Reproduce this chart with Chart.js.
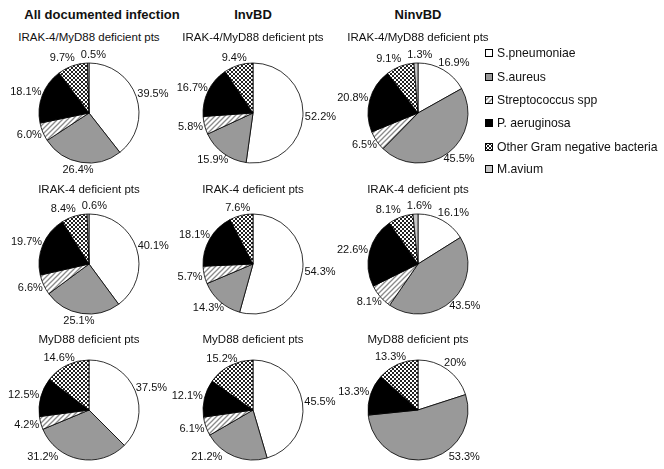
<!DOCTYPE html>
<html>
<head>
<meta charset="utf-8">
<script src="https://cdn.jsdelivr.net/npm/chart.js@4.4.0/dist/chart.umd.min.js"></script>
<style>
    body { margin: 0; background: #fff; font-family: Arial, "Liberation Sans", sans-serif; color: #111; }
    #wrap { position: relative; width: 664px; height: 469px; overflow: hidden; }
    .head { position: absolute; font-weight: bold; font-size: 13px; transform: translate(-50%, -50%); white-space: nowrap; }
    .sub { position: absolute; font-size: 11.5px; transform: translate(-50%, -50%); white-space: nowrap; }
    canvas.pie { position: absolute; }
    .leg { position: absolute; left: 485px; font-size: 12.2px; white-space: nowrap; transform: translateY(-50%); display: flex; align-items: center; }
    .leg canvas { margin-right: 4px; }
</style>
</head>
<body>
<div id="wrap"></div>
<script>
    const categories = ['S.pneumoniae', 'S.aureus', 'Streptococcus spp', 'P. aeruginosa', 'Other Gram negative bacteria', 'M.avium'];
    const groups = ['All documented infection', 'InvBD', 'NinvBD'];
    const patients = ['IRAK-4/MyD88 deficient pts', 'IRAK-4 deficient pts', 'MyD88 deficient pts'];

    // percentages, clockwise from 12 o'clock, in category order
    const allIrakMyd = ['39.5', '26.4', '6.0', '18.1', '9.7', '0.5'];
    const invIrakMyd = ['52.2', '15.9', '5.8', '16.7', '9.4', '0'];
    const ninvIrakMyd = ['16.9', '45.5', '6.5', '20.8', '9.1', '1.3'];
    const allIrak = ['40.1', '25.1', '6.6', '19.7', '8.4', '0.6'];
    const invIrak = ['54.3', '14.3', '5.7', '18.1', '7.6', '0'];
    const ninvIrak = ['16.1', '43.5', '8.1', '22.6', '8.1', '1.6'];
    const allMyd = ['37.5', '31.2', '4.2', '12.5', '14.6', '0'];
    const invMyd = ['45.5', '21.2', '6.1', '12.1', '15.2', '0'];
    const ninvMyd = ['20', '53.3', '0', '13.3', '13.3', '0'];

    const table = [
        [allIrakMyd, invIrakMyd, ninvIrakMyd],
        [allIrak, invIrak, ninvIrak],
        [allMyd, invMyd, ninvMyd]
    ];

    const colX = [89, 253, 418];
    const rowY = [113, 264, 410];
    const subY = [37, 189, 339];
    const FONT = 'Arial, "Liberation Sans", sans-serif';

    function makePattern(draw, size) {
        const c = document.createElement('canvas');
        c.width = size; c.height = size;
        const g = c.getContext('2d');
        g.fillStyle = '#fff';
        g.fillRect(0, 0, size, size);
        draw(g);
        return c;
    }

    const hatchTile = makePattern(g => {
        g.strokeStyle = '#8a8a8a';
        g.lineWidth = 1.3;
        g.beginPath();
        g.moveTo(0, 5); g.lineTo(5, 0);
        g.moveTo(-1, 1); g.lineTo(1, -1);
        g.moveTo(4, 6); g.lineTo(6, 4);
        g.stroke();
    }, 5);

    const checkTile = makePattern(g => {
        g.fillStyle = '#222';
        g.fillRect(0, 0, 2, 2);
        g.fillRect(2, 2, 2, 2);
    }, 4);

    const wrap = document.getElementById('wrap');
    const pctx = document.createElement('canvas').getContext('2d');
    const colors = [
        '#ffffff',
        '#999999',
        pctx.createPattern(hatchTile, 'repeat'),
        '#000000',
        pctx.createPattern(checkTile, 'repeat'),
        '#c8c8c8'
    ];

    // excel-like "outside end" labels, kept inside the plot area at the bottom
    const outsideLabels = {
        id: 'outsideLabels',
        afterDatasetsDraw(chart, args, opts) {
            const ctx = chart.ctx;
            const meta = chart.getDatasetMeta(0);
            const raw = chart.data.datasets[0].data;
            const maxY = opts.maxY || chart.height;
            const hh = 6, gap = 6;
            ctx.save();
            ctx.font = '11px ' + FONT;
            ctx.fillStyle = '#111';
            ctx.textAlign = 'center';
            ctx.textBaseline = 'middle';
            const labels = [];
            meta.data.forEach((arc, i) => {
                if (+raw[i] === 0) return;
                const p = arc.getProps(['x', 'y', 'startAngle', 'endAngle', 'outerRadius'], true);
                const mid = (p.startAngle + p.endAngle) / 2;
                const dx = Math.cos(mid), dy = Math.sin(mid);
                const text = raw[i] + '%';
                const hw = ctx.measureText(text).width / 2;
                const r = p.outerRadius + 2;
                let tx = p.x + dx * (r + hw);
                let ty = p.y + dy * (r + hh);
                if (ty > maxY) {
                    ty = maxY;
                    const top = ty - p.y - hh + 1;
                    const half = top < r ? Math.sqrt(r * r - top * top) : 0;
                    tx = p.x + Math.sign(dx) * (half + hw);
                }
                labels.push({text, x: tx, y: ty, hw});
            });
            // push overlapping labels apart sideways
            for (let k = 0; k < 5; k++) {
                for (let i = 0; i < labels.length; i++) {
                    for (let j = i + 1; j < labels.length; j++) {
                        const a = labels[i], b = labels[j];
                        if (Math.abs(a.y - b.y) >= 2 * hh) continue;
                        const need = a.hw + b.hw + gap - Math.abs(a.x - b.x);
                        if (need <= 0) continue;
                        const s = a.x < b.x ? -1 : 1;
                        a.x += s * need / 2;
                        b.x -= s * need / 2;
                    }
                }
            }
            labels.forEach(l => ctx.fillText(l.text, l.x, l.y));
            ctx.restore();
        }
    };

    groups.forEach((g, c) => {
        const h = document.createElement('div');
        h.className = 'head';
        h.textContent = g;
        h.style.left = (c === 0 ? 102 : colX[c]) + 'px';
        h.style.top = '14px';
        wrap.appendChild(h);
    });

    table.forEach((row, r) => {
        row.forEach((values, c) => {
            const s = document.createElement('div');
            s.className = 'sub';
            s.textContent = patients[r];
            s.style.left = colX[c] + 'px';
            s.style.top = subY[r] + 'px';
            wrap.appendChild(s);

            const top = rowY[r] - 80;
            const cv = document.createElement('canvas');
            cv.className = 'pie';
            cv.width = 200; cv.height = 160;
            cv.style.left = (colX[c] - 100) + 'px';
            cv.style.top = top + 'px';
            wrap.appendChild(cv);

            new Chart(cv.getContext('2d'), {
                type: 'pie',
                data: {
                    labels: categories,
                    datasets: [{
                        data: values,
                        backgroundColor: colors,
                        borderColor: '#000',
                        borderWidth: 0.8
                    }]
                },
                options: {
                    responsive: false,
                    animation: false,
                    radius: 50,
                    events: [],
                    plugins: {
                        legend: { display: false },
                        tooltip: { enabled: false },
                        outsideLabels: { maxY: 457 - top }
                    }
                },
                plugins: [outsideLabels]
            });
        });
    });

    const legY = [53, 77, 100, 123, 147, 169];
    categories.forEach((name, i) => {
        const item = document.createElement('div');
        item.className = 'leg';
        item.style.top = legY[i] + 'px';
        const sw = document.createElement('canvas');
        sw.width = 8; sw.height = 8;
        const g = sw.getContext('2d');
        g.fillStyle = colors[i];
        g.fillRect(0, 0, 8, 8);
        g.strokeStyle = '#000';
        g.lineWidth = 1;
        g.strokeRect(0.5, 0.5, 7, 7);
        item.appendChild(sw);
        const t = document.createElement('span');
        t.textContent = name;
        item.appendChild(t);
        wrap.appendChild(item);
    });
</script>
</body>
</html>
